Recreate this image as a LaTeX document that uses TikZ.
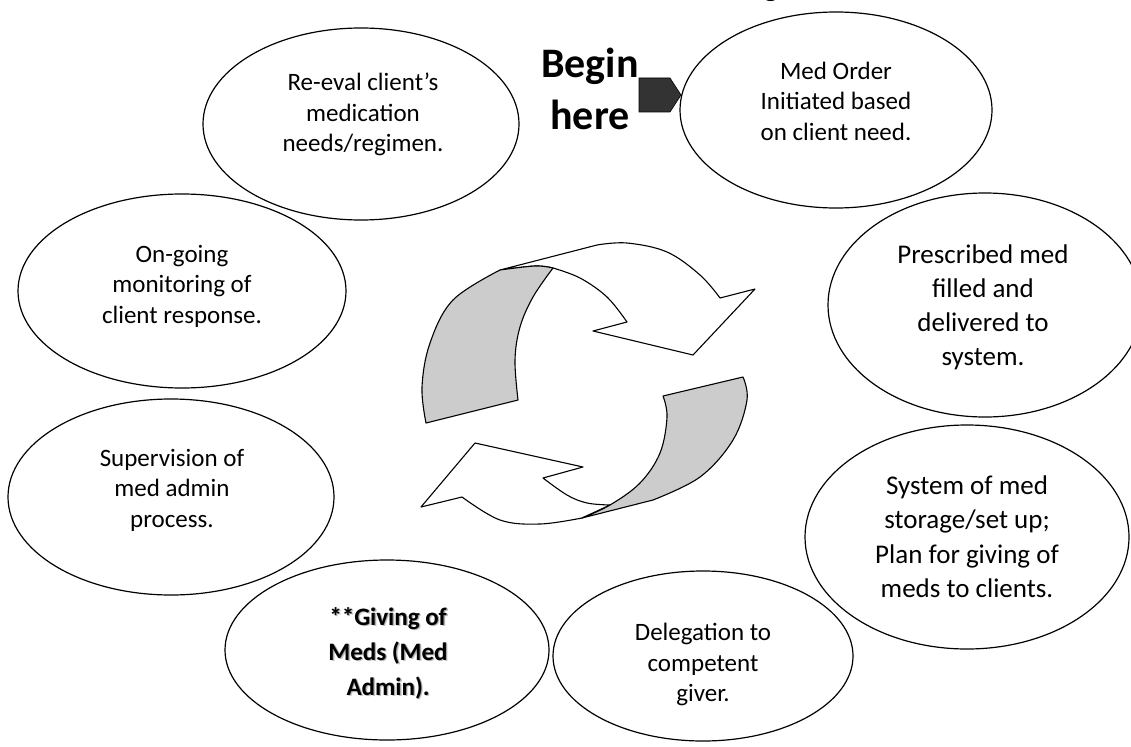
\documentclass[tikz,border=0pt]{standalone}
\usepackage{fontspec}
\setmainfont{Carlito}
\usetikzlibrary{shapes.geometric}
\newcommand\Tp{\rule{0pt}{22pt}}
\newcommand\Bt{\rule[-8pt]{0pt}{8pt}}
\newcommand\BTp{\rule{0pt}{36pt}}
\newcommand\BBt{\rule[-12pt]{0pt}{12pt}}
\definecolor{bandgray}{HTML}{CCCCCC}
\definecolor{startgray}{HTML}{333333}
\tikzset{
  ell/.style={ellipse, draw=black, line width=1.2pt, inner sep=0pt},
  txt/.style={align=center, inner sep=0pt, font=\fontsize{25}{30.5}\selectfont},
  txtbig/.style={align=center, inner sep=0pt, font=\fontsize{27}{34.2}\selectfont},
  txtbold/.style={align=center, inner sep=0pt, font=\bfseries\fontsize{25}{35}\selectfont},
  ribbon/.style={draw=black, line width=1.1pt, line join=round},
}
\begin{document}
\begin{tikzpicture}[x=1pt,y=-1pt]
\useasboundingbox (0,0) rectangle (1131,746);
\fill[white] (0,0) rectangle (1131,746);

% partly visible title letter at the top edge
\node[font=\bfseries\fontsize{30}{36}\selectfont, anchor=base, inner sep=0pt] (ttl) at (771,-3) {g};

% ellipses
\node[ell, minimum width=316pt, minimum height=192pt] (reeval) at (361,124) {};
\node[ell, minimum width=312pt, minimum height=196pt] (order) at (836,110) {};
\node[ell, minimum width=328pt, minimum height=194pt] (ongoing) at (182,291) {};
\node[ell, minimum width=314pt, minimum height=224pt] (presc) at (985,305) {};
\node[ell, minimum width=326pt, minimum height=196pt] (superv) at (171,497) {};
\node[ell, minimum width=324pt, minimum height=224pt] (system) at (967,537) {};
\node[ell, minimum width=324pt, minimum height=180pt] (giving) at (387,650) {};
\node[ell, minimum width=300pt, minimum height=170pt] (deleg) at (703,656) {};

% texts
\node[txt] (treeval) at (363,114.5) {\Tp Re-eval client’s\\medication\\needs/regimen.\Bt};
\node[txt] (torder) at (836,103) {\Tp Med Order\\Initiated based\\on client need.\Bt};
\node[txt] (tongoing) at (182,285.5) {\Tp On-going\\monitoring of\\client response.\Bt};
\node[txtbig] (tpresc) at (983,307.5) {\Tp Prescribed med\\filled and\\delivered to\\system.\Bt};
\node[txt] (tsuperv) at (172,489.5) {\Tp Supervision of\\med admin\\process.\Bt};
\node[txtbig] (tsystem) at (967,539) {\Tp System of med\\storage/set up;\\Plan for giving of\\meds to clients.\Bt};
\node[txtbold, text=black!22] (tgivingsh) at (389.6,654.6) {\Tp **Giving of\\Meds (Med\\Admin).\Bt};
\node[txtbold, text=black!40] (tgivingsh2) at (388.8,653.8) {\Tp **Giving of\\Meds (Med\\Admin).\Bt};
\node[txtbold] (tgiving) at (388,653) {\Tp **Giving of\\Meds (Med\\Admin).\Bt};
\node[txt] (tdeleg) at (703,664) {\Tp Delegation to\\competent\\giver.\Bt};

% begin here
\node[align=center, inner sep=0pt, font=\bfseries\fontsize{42}{52}\selectfont] (begin) at (590,92) {\BTp Begin\\here\BBt};
\coordinate (tip) at (681,95);
\draw[fill=startgray, draw=black, line width=0.6pt] (639,78) -- (670,78) -- (tip) -- (670,112) -- (639,112) -- cycle;

% upper circular arrow: white front
\draw[ribbon, fill=white]
  (500,270) -- (597,245)
  -- plot[smooth, tension=0.6] coordinates {(597,245) (627,243) (667,252) (700,275) (720,298)}
  -- (755,289) -- (693,355) -- (593,331) -- (627,322)
  -- plot[smooth, tension=0.6] coordinates {(627,322) (607,297) (580,278) (553,268)}
  -- plot[smooth, tension=0.6] coordinates {(553,268) (535,266) (500,270)}
  -- cycle;
% upper arrow: gray back band
\draw[ribbon, fill=bandgray]
  plot[smooth, tension=0.6] coordinates {(500,270) (535,266) (553,268)}
  -- plot[smooth, tension=0.6] coordinates {(553,268) (533,297) (520,327) (515,360) (518,400)}
  -- (426,423)
  -- plot[smooth, tension=0.6] coordinates {(426,423) (422,387) (430,343) (453,300) (500,270)}
  -- cycle;

% lower circular arrow: white front
\draw[ribbon, fill=white]
  (582,518)
  -- plot[smooth, tension=0.6] coordinates {(582,518) (540,524) (500,520) (462,497)}
  -- (421,507) -- (475,443) -- (583,467) -- (543,478)
  -- plot[smooth, tension=0.6] coordinates {(543,478) (567,495) (587,503) (610,505)}
  -- (582,518) -- cycle;
% lower arrow: gray back band
\draw[ribbon, fill=bandgray]
  (663,396) -- (743,377)
  -- plot[smooth, tension=0.6] coordinates {(743,377) (747,400) (733,440) (700,477) (653,500)}
  -- (582,518)
  -- plot[smooth, tension=0.6] coordinates {(582,518) (610,505) (640,483) (660,453) (667,417) (663,396)}
  -- cycle;
\end{tikzpicture}
\end{document}
